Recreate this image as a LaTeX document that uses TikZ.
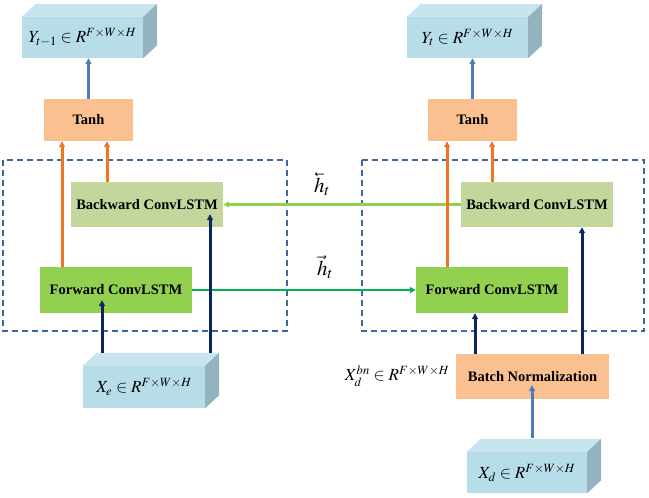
\documentclass[tikz,border=0pt]{standalone}
\usepackage{amsmath}
\usepackage{mathptmx}
\usepackage{fontspec}
\setmainfont{Liberation Serif}
\usetikzlibrary{arrows.meta,calc}

\definecolor{cubefront}{HTML}{B7DDE8}
\definecolor{cubetop}{HTML}{C8E5EE}
\definecolor{cubeside}{HTML}{93B4BF}
\definecolor{peach}{HTML}{FAC090}
\definecolor{bwgreen}{HTML}{C3D69B}
\definecolor{fwgreen}{HTML}{92D050}
\definecolor{lgarrow}{HTML}{92D050}
\definecolor{dgarrow}{HTML}{00B050}
\definecolor{orarrow}{HTML}{EE7522}
\definecolor{navy}{HTML}{0C2466}
\definecolor{bluearrow}{HTML}{4A7EBB}
\definecolor{dashblue}{HTML}{3D67A0}

\def\cdx{14}
\def\cdy{13}
% top and side face of a cube drawn on a node
\newcommand\cubefaces[1]{%
  \fill[cubetop] (#1.north west) -- ++(\cdx,-\cdy) -- ([shift={(\cdx,-\cdy)}]#1.north east) -- (#1.north east) -- cycle;
  \fill[cubeside] (#1.north east) -- ++(\cdx,-\cdy) -- ([shift={(\cdx,-\cdy)}]#1.south east) -- (#1.south east) -- cycle;
}

\tikzset{
  lstm/.style={inner sep=0pt, minimum width=152pt, minimum height=45pt, font=\fontsize{14.5}{16}\selectfont\bfseries},
  peachbox/.style={lstm, fill=peach},
  cubebox/.style={inner sep=0pt, fill=cubefront, minimum width=121pt, minimum height=41pt, font=\fontsize{17}{19}\selectfont},
  tip/.style={-{Triangle[length=6pt,width=6pt]}},
  groupbox/.style={draw=dashblue, line width=1.7pt, dash pattern=on 6pt off 4pt},
  thick arrow/.style={tip, line width=3pt},
  thin arrow/.style={tip, line width=2.5pt},
}

\begin{document}
\begin{tikzpicture}[x=1pt,y=-1pt]
  %%%%% START %%%%%
  \useasboundingbox (0,0) rectangle (649,498);

  \draw[groupbox] (3,160) rectangle (287,331);
  \draw[groupbox] (362,160) rectangle (644,331);

  \node[cubebox] (yprev) at (82.5,37.5) {$Y_{t-1}\in R^{F\times W\times H}$};
  \cubefaces{yprev}
  \node[cubebox] (ycur) at (467.5,37.5) {$Y_{t}\in R^{F\times W\times H}$};
  \cubefaces{ycur}
  \node[cubebox, minimum width=122pt, minimum height=42pt] (xe) at (144,387) {$X_{e}\in R^{F\times W\times H}$};
  \cubefaces{xe}
  \node[cubebox, minimum width=120pt] (xd) at (527,472.5) {$X_{d}\in R^{F\times W\times H}$};
  \cubefaces{xd}

  \node[peachbox, minimum width=89pt, minimum height=42pt] (tanhL) at (88.5,120) {Tanh};
  \node[peachbox, minimum width=89pt, minimum height=42pt] (tanhR) at (472.5,120) {Tanh};
  \node[lstm, fill=bwgreen] (bwL) at (147,204.5) {Backward ConvLSTM};
  \node[lstm, fill=fwgreen, minimum height=46pt] (fwL) at (116,290) {Forward ConvLSTM};
  \node[lstm, fill=bwgreen] (bwR) at (537,204.5) {Backward ConvLSTM};
  \node[lstm, fill=fwgreen, minimum height=46pt] (fwR) at (492,290) {Forward ConvLSTM};
  \node[peachbox, minimum width=153pt] (bn) at (532.5,376.5) {Batch Normalization};

  \node[font=\fontsize{21}{23}\selectfont] (hb) at (322,184) {$\reflectbox{$\vec{\reflectbox{$h$}}$}_t$};
  \node[font=\fontsize{21}{23}\selectfont] (hf) at (325,267) {$\vec{h}_t$};
  \node[font=\fontsize{17}{19}\selectfont] (xbn) at (397,376) {$X_d^{bn}\in R^{F\times W\times H}$};

  % hidden states
  \draw[thin arrow, lgarrow] (bwR.west) -- (bwL.east);
  \draw[thin arrow, dgarrow] (fwL.east) -- (fwR.west);

  % into tanh
  \draw[thick arrow, orarrow] ([xshift=-26.5]tanhL.south |- fwL.north) -- ([xshift=-26.5]tanhL.south);
  \draw[thick arrow, orarrow] ([xshift=18.5]tanhL.south |- bwL.north) -- ([xshift=18.5]tanhL.south);
  \draw[thick arrow, orarrow] ([xshift=-25.5]tanhR.south |- fwR.north) -- ([xshift=-25.5]tanhR.south);
  \draw[thick arrow, orarrow] ([xshift=19.5]tanhR.south |- bwR.north) -- ([xshift=19.5]tanhR.south);

  % outputs
  \draw[thick arrow, bluearrow] (tanhL.north) -- (tanhL.north |- yprev.south);
  \draw[thick arrow, bluearrow] (tanhR.north) -- (tanhR.north |- ycur.south);

  % inputs
  \draw[thick arrow, navy] ([shift={(-42,-13)}]xe.north) -- ([shift={(-42,-13)}]xe.north |- fwL.south);
  \draw[thick arrow, navy] ([shift={(66,-13)}]xe.north) -- ([shift={(66,-13)}]xe.north |- bwL.south);
  \draw[thick arrow, navy] ([xshift=-57.5]bn.north) -- ([xshift=-57.5]bn.north |- fwR.south);
  \draw[thick arrow, navy] ([xshift=49.5]bn.north) -- ([xshift=49.5]bn.north |- bwR.south);
  \draw[thick arrow, bluearrow] ([shift={(5,-14)}]xd.north) -- ([shift={(5,-14)}]xd.north |- bn.south);
  %%%%% END %%%%%
\end{tikzpicture}
\end{document}
